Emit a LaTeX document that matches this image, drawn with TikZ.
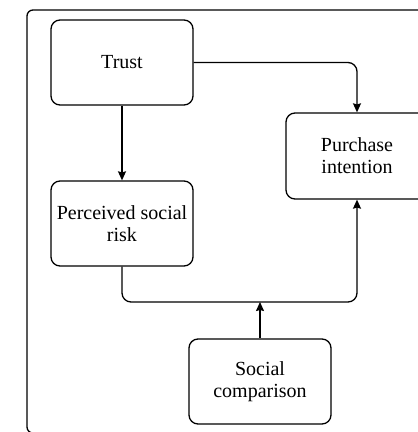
\documentclass[tikz,border=0pt]{standalone}
\usepackage{fontspec}
\setmainfont{Liberation Serif}
\usepackage{tikz}
\usetikzlibrary{arrows.meta,%
                positioning}

\begin{document}
\begin{tikzpicture}[x=1pt, y=-1pt, every text node part/.style={align=center}]
        \tikzset{
          factor/.style={draw, rectangle, rounded corners=9pt, line width=1.3pt,
            minimum width=142pt, minimum height=85pt, inner sep=0pt,
            font=\fontsize{20}{22}\selectfont},
          link/.style={line width=1.3pt, rounded corners=9pt,
            -{Stealth[length=9pt,width=8pt,inset=1pt]}},
        }
        \useasboundingbox (0,0) rectangle (418,432);
        \clip (0,0) rectangle (418,432);
        \draw [line width=1.3pt, rounded corners=6pt] (27,10) rectangle (445,433);
        \node [factor](trust) at (122,62.5) {Trust};
        \node [factor](psr) at (122,223.5) {Perceived social \\ risk};
        \node [factor, minimum height=86pt](purch) at (357,156) {Purchase \\ intention};
        \node [factor](soc) at (260,381.5) {Social \\ comparison};
        \coordinate (bend) at (357,302);
        % 
        \draw [link] (trust.east) -| (purch.north);
        \draw [link] (trust.south) -- (psr.north);
        \draw [link] (psr.south) |- (bend) -- (purch.south);
        \draw [link] (soc.north) -- (soc.north |- bend);
    \end{tikzpicture}
\end{document}
